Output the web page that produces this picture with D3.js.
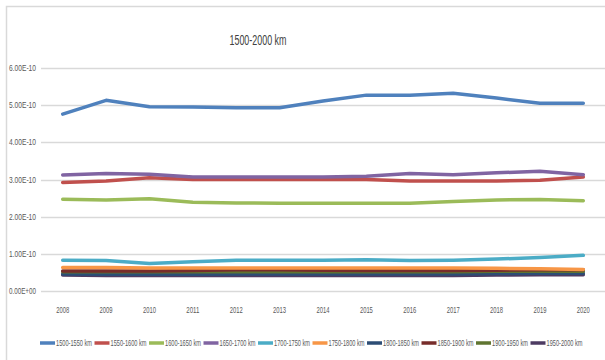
<!DOCTYPE html>
<html><head><meta charset="utf-8">
<script src="https://cdn.jsdelivr.net/npm/d3@7"></script>
<style>body{margin:0;background:#fff}svg{display:block}text{font-family:"Liberation Sans Narrow","Liberation Sans",sans-serif}</style>
</head><body><svg id="c" width="605" height="360"></svg>
<script>
const years = ["2008","2009","2010","2011","2012","2013","2014","2015","2016","2017","2018","2019","2020"];
const seriesNames = ["1500-1550 km","1550-1600 km","1600-1650 km","1650-1700 km","1700-1750 km","1750-1800 km","1800-1850 km","1850-1900 km","1900-1950 km","1950-2000 km"];
const colors = ["#4F81BD","#C0504D","#9BBB59","#8064A2","#4BACC6","#F79646","#2C4D75","#772C2A","#5F7530","#4D3B62"];
const s1500 = [4.76e-10,5.13e-10,4.96e-10,4.95e-10,4.93e-10,4.93e-10,5.11e-10,5.27e-10,5.27e-10,5.32e-10,5.19e-10,5.05e-10,5.05e-10];
const s1550 = [2.92e-10,2.96e-10,3.05e-10,3.00e-10,3.00e-10,3.00e-10,3.00e-10,3.00e-10,2.96e-10,2.96e-10,2.96e-10,2.98e-10,3.07e-10];
const s1600 = [2.47e-10,2.45e-10,2.48e-10,2.39e-10,2.37e-10,2.36e-10,2.36e-10,2.36e-10,2.36e-10,2.41e-10,2.45e-10,2.46e-10,2.43e-10];
const s1650 = [3.12e-10,3.16e-10,3.14e-10,3.07e-10,3.07e-10,3.07e-10,3.07e-10,3.09e-10,3.16e-10,3.13e-10,3.18e-10,3.22e-10,3.13e-10];
const s1700 = [0.83e-10,0.82e-10,0.74e-10,0.79e-10,0.83e-10,0.83e-10,0.83e-10,0.84e-10,0.82e-10,0.83e-10,0.86e-10,0.90e-10,0.96e-10];
const s1750 = [0.63e-10,0.63e-10,0.62e-10,0.62e-10,0.62e-10,0.62e-10,0.62e-10,0.62e-10,0.62e-10,0.62e-10,0.61e-10,0.60e-10,0.58e-10];
const s1800 = [0.46e-10,0.45e-10,0.45e-10,0.45e-10,0.46e-10,0.46e-10,0.46e-10,0.46e-10,0.46e-10,0.46e-10,0.47e-10,0.48e-10,0.48e-10];
const s1850 = [0.54e-10,0.54e-10,0.54e-10,0.55e-10,0.57e-10,0.57e-10,0.56e-10,0.55e-10,0.55e-10,0.55e-10,0.56e-10,0.57e-10,0.57e-10];
const s1900 = [0.52e-10,0.52e-10,0.52e-10,0.52e-10,0.52e-10,0.52e-10,0.52e-10,0.52e-10,0.52e-10,0.52e-10,0.53e-10,0.53e-10,0.53e-10];
const s1950 = [0.43e-10,0.42e-10,0.42e-10,0.42e-10,0.42e-10,0.42e-10,0.42e-10,0.42e-10,0.42e-10,0.42e-10,0.43e-10,0.44e-10,0.44e-10];
const yTicks = [0,1e-10,2e-10,3e-10,4e-10,5e-10,6e-10];
const yTickLabels = ["0.00E+00","1.00E-10","2.00E-10","3.00E-10","4.00E-10","5.00E-10","6.00E-10"];
const title = "1500-2000 km";

const seriesValues = [s1500,s1550,s1600,s1650,s1700,s1750,s1800,s1850,s1900,s1950];
const series = seriesNames.map((n,i)=>({name:n,color:colors[i],values:seriesValues[i]}));

const svg = d3.select("#c");
svg.append("rect").attr("x",6.5).attr("y",6.5).attr("width",620).attr("height",380)
  .attr("fill","none").attr("stroke","#d9d9d9").attr("stroke-width",1.5);

const mLeft = 41, mRight = 605, mTop = 68, mBottom = 291;
const x = d3.scaleBand().domain(years).range([mLeft,mRight]);
const y = d3.scaleLinear().domain([0,6e-10]).range([mBottom,mTop]);

svg.append("g").selectAll("line").data(yTicks).join("line")
  .attr("x1",mLeft).attr("x2",mRight)
  .attr("y1",d=>Math.round(y(d))+0.5).attr("y2",d=>Math.round(y(d))+0.5)
  .attr("stroke","#d9d9d9").attr("stroke-width",1.3);

svg.append("g").selectAll("text").data(yTicks).join("text")
  .attr("x",36).attr("y",d=>y(d)+3).attr("text-anchor","end")
  .attr("font-size",9).attr("fill","#595959")
  .attr("textLength",27).attr("lengthAdjust","spacingAndGlyphs")
  .text((d,i)=>yTickLabels[i]);

svg.append("g").selectAll("text").data(years).join("text")
  .attr("x",d=>x(d)+x.bandwidth()/2).attr("y",313).attr("text-anchor","middle")
  .attr("font-size",9).attr("fill","#595959")
  .attr("textLength",13).attr("lengthAdjust","spacingAndGlyphs").text(d=>d);

const line = d3.line().x((d,i)=>x(years[i])+x.bandwidth()/2).y(d=>y(d));
const order = [9,6,8,7,5,4,2,1,3,0];
svg.append("g").selectAll("path").data(order.map(i=>series[i])).join("path")
  .attr("d",d=>line(d.values)).attr("fill","none")
  .attr("stroke",d=>d.color).attr("stroke-width",3.5).attr("stroke-linejoin","round").attr("stroke-linecap","round");

svg.append("text").attr("x",258).attr("y",45).attr("text-anchor","middle")
  .attr("font-size",14).attr("fill","#404040")
  .attr("textLength",57).attr("lengthAdjust","spacingAndGlyphs").text(title);

const lg = svg.append("g").selectAll("g").data(series).join("g")
  .attr("transform",(d,i)=>`translate(${40+i*54.5},343)`);
lg.append("line").attr("x1",0).attr("x2",15).attr("y1",0).attr("y2",0)
  .attr("stroke",d=>d.color).attr("stroke-width",3.5);
lg.append("text").attr("x",16).attr("y",3).attr("font-size",8.5).attr("fill","#595959")
  .attr("textLength",36).attr("lengthAdjust","spacingAndGlyphs").text(d=>d.name);
</script></body></html>
